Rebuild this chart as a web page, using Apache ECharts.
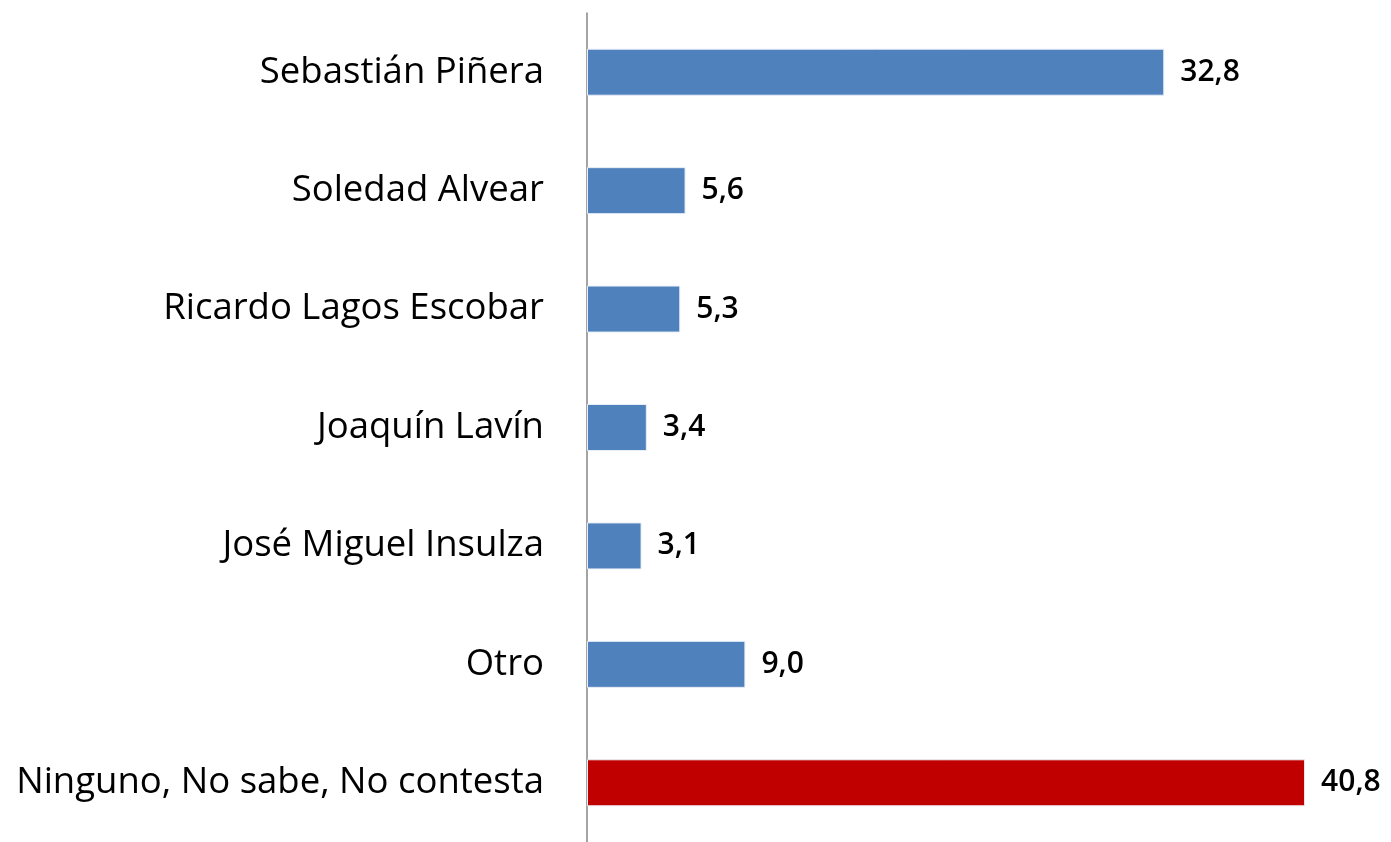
<!DOCTYPE html>
<html>
<head>
<meta charset="utf-8">
<script src="https://cdn.jsdelivr.net/npm/echarts@6/dist/echarts.min.js"></script>
<style>
	html, body { margin:0; padding:0; background:#fff; }
	#chart { width:1391px; height:842px; }
</style>
</head>
<body>
<div id="chart"></div>
<script type="text/javascript">
// categorias y valores (%)
var categories = ['Sebastián Piñera', 'Soledad Alvear', 'Ricardo Lagos Escobar', 'Joaquín Lavín', 'José Miguel Insulza', 'Otro', 'Ninguno, No sabe, No contesta'];
var values = [32.8, 5.6, 5.3, 3.4, 3.1, 9.0, 40.8];
var barColors = ['#4F81BD', '#4F81BD', '#4F81BD', '#4F81BD', '#4F81BD', '#4F81BD', '#C00000'];

var chart = echarts.init(document.getElementById('chart'));
var option = {
	animation: false,
	grid: { left: 587, top: 13, width: 792, height: 832 },
	xAxis: {
		type: 'value',
		min: 0,
		max: 45,
		show: false
	},
	yAxis: {
		type: 'category',
		inverse: true,
		data: categories,
		axisTick: { show: false },
		axisLine: { lineStyle: { color: '#868686', width: 1.5 } },
		axisLabel: {
			margin: 43,
			fontSize: 36.5,
			color: '#000',
			fontFamily: 'Open Sans'
		}
	},
	series: [{
		type: 'bar',
		barWidth: 47,
		data: values.map(function (v, i) {
			return { value: v, itemStyle: { color: barColors[i] } };
		}),
		itemStyle: { borderColor: '#E8EEF7', borderWidth: 1 },
		label: {
			show: true,
			position: 'right',
			distance: 16,
			fontSize: 30,
			fontWeight: 600,
			color: '#000',
			fontFamily: 'Open Sans',
			formatter: function (p) { return p.value.toFixed(1).replace('.', ','); }
		}
	}]
};
chart.setOption(option);
</script>
</body>
</html>
